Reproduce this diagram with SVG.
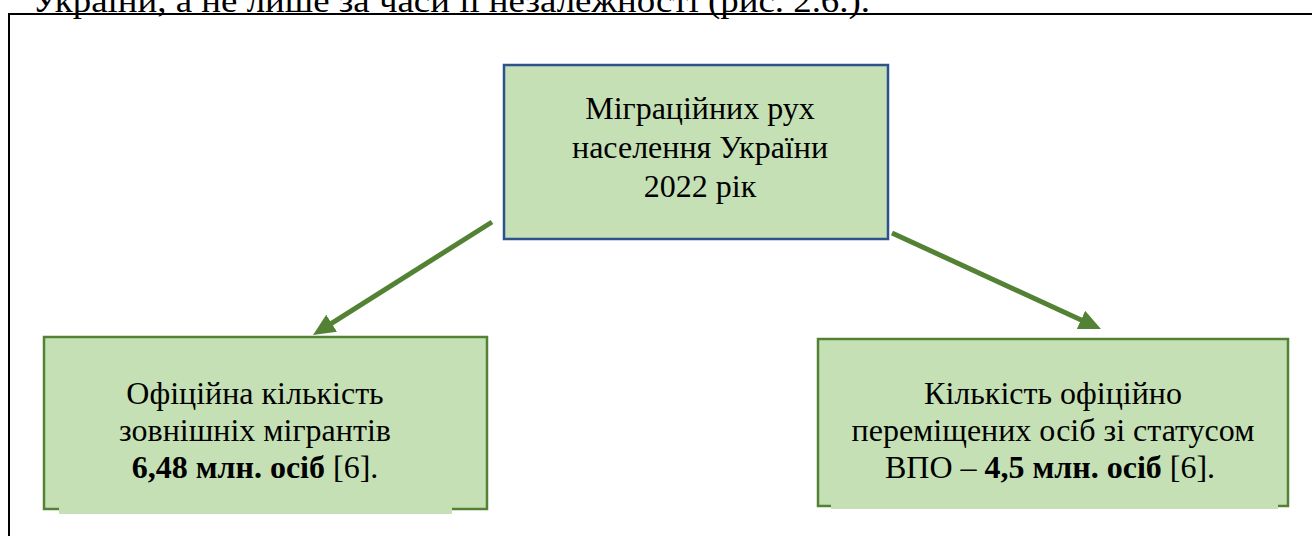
<svg xmlns="http://www.w3.org/2000/svg" width="1312" height="536" viewBox="0 0 1312 536">
  <defs>
    <style>
      text { font-family: "Liberation Serif", "Times New Roman", serif; fill: #000; }
      .t { font-size: 32px; text-anchor: middle; }
      .b { font-weight: bold; }
      .box { fill: #C5E0B4; }
      .gbox { stroke: #538135; stroke-width: 2.5; }
      .bbox { stroke: #2F528F; stroke-width: 2.5; }
      .strip { fill: #C5E0B4; }
      .conn { stroke: #548235; stroke-width: 5; fill: none; }
    </style>
    <marker id="ah" markerUnits="userSpaceOnUse" markerWidth="24" markerHeight="22" refX="2" refY="10" orient="auto">
      <path d="M0,0 L22,10 L0,20 z" fill="#548235"/>
    </marker>
  </defs>
  <rect width="1312" height="536" fill="#fff"/>

  <!-- page fragment -->
  <text x="32" y="12" style="font-size:34px" textLength="838" lengthAdjust="spacingAndGlyphs">України, а не лише за часи її незалежності (рис. 2.6.).</text>
  <path d="M8,14 H1312 M9,13 V536" stroke="#000" stroke-width="2" fill="none"/>

  <g id="connectors">
    <line class="conn" x1="492" y1="222" x2="329.9" y2="324.3" marker-end="url(#ah)"/>
    <line class="conn" x1="892" y1="233" x2="1082.8" y2="320.7" marker-end="url(#ah)"/>
  </g>

  <g id="node-top">
    <rect class="box bbox" x="504" y="65" width="384" height="174"/>
    <text class="t" x="700" y="119">Міграційних рух</text>
    <text class="t" x="700" y="158">населення України</text>
    <text class="t" x="700" y="197">2022 рік</text>
  </g>

  <g id="node-left">
    <rect class="box gbox" x="44" y="337" width="443" height="172"/>
    <rect class="strip" x="59" y="504" width="393" height="10"/>
    <text class="t" x="255" y="404">Офіційна кількість</text>
    <text class="t" x="255" y="441">зовнішніх мігрантів</text>
    <text class="t" x="255" y="478"><tspan class="b">6,48 млн. осіб</tspan> [6].</text>
  </g>

  <g id="node-right">
    <rect class="box gbox" x="818" y="339" width="470" height="167"/>
    <rect class="strip" x="831" y="502" width="447" height="7"/>
    <text class="t" x="1053" y="404">Кількість офіційно</text>
    <text class="t" x="1053" y="441">переміщених осіб зі статусом</text>
    <text class="t" x="1050" y="478">ВПО – <tspan class="b">4,5 млн. осіб</tspan> [6].</text>
  </g>
</svg>
